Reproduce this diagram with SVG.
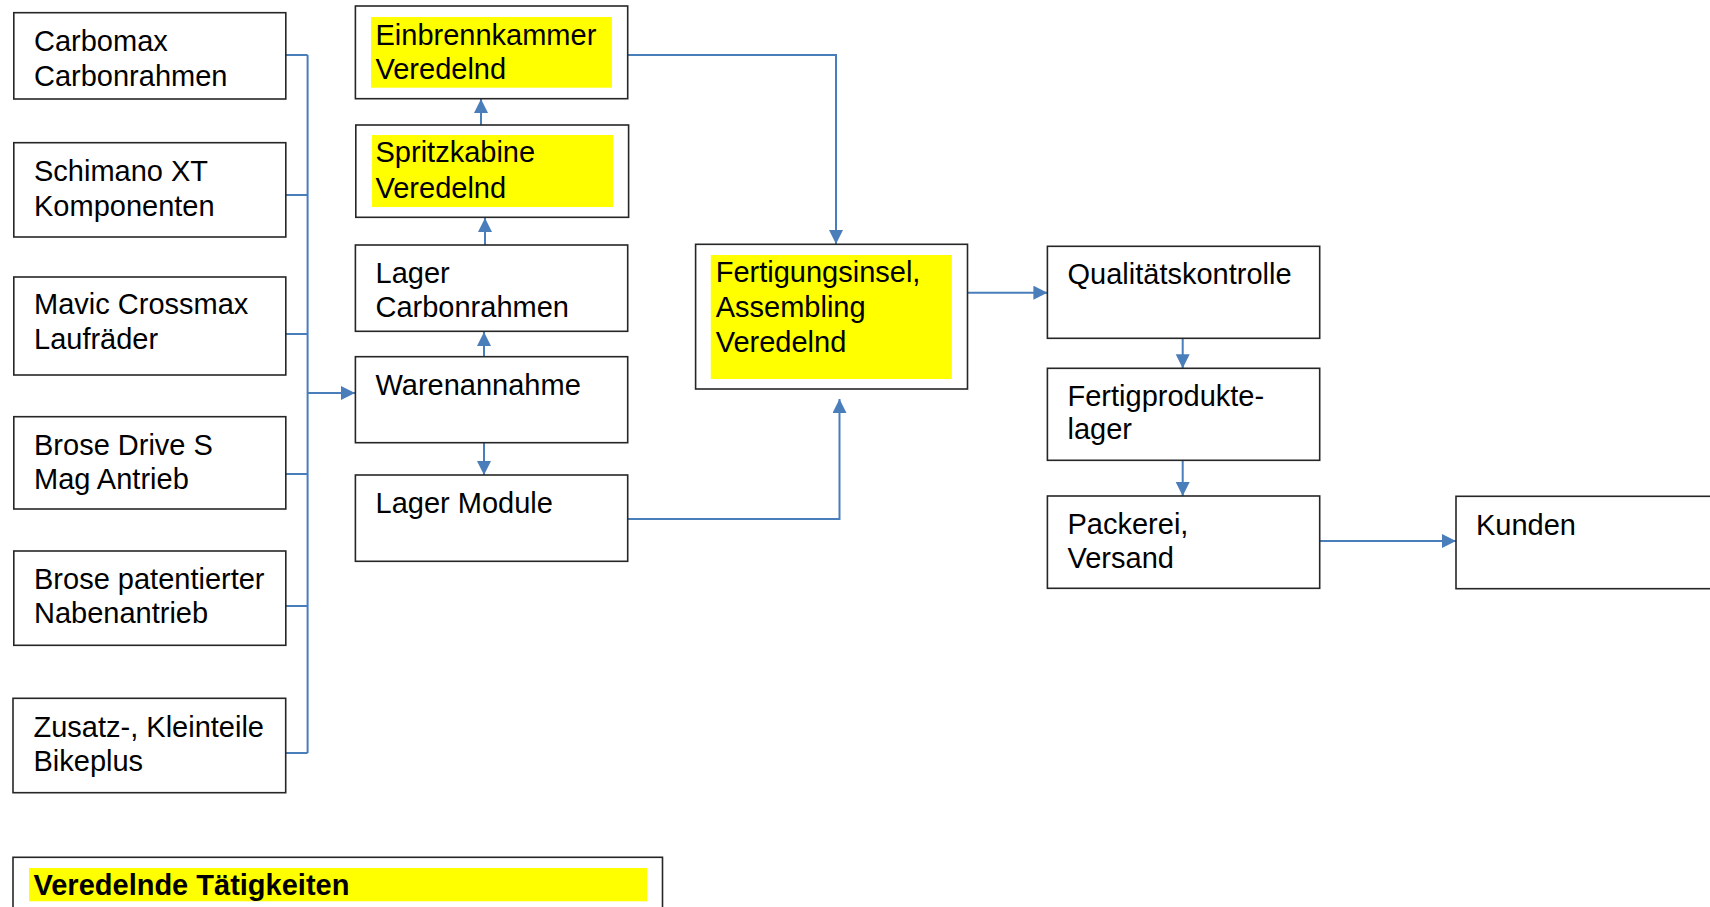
<svg xmlns="http://www.w3.org/2000/svg" width="1710" height="907" viewBox="0 0 1710 907">
<style>
.box{fill:#fff;stroke:#262626;stroke-width:1.6}
.hl{fill:#ffff00}
.t{font-family:"Liberation Sans",Arial,sans-serif;font-size:29px;fill:#000}
.b{font-weight:bold}
.c{fill:none;stroke:#4a7ebb;stroke-width:2}
</style>
<defs>
<marker id="ah" markerUnits="userSpaceOnUse" markerWidth="15" markerHeight="15" refX="14" refY="7" orient="auto">
<path d="M0,0 L14,7 L0,14 z" fill="#4a7ebb"/>
</marker>
</defs>
<g id="connectors">
<path class="c" d="M286,55 H307.6 M286,195 H307.6 M286,334 H307.6 M286,474 H307.6 M286,606 H307.6 M286,753 H307.6 M307.6,55 V753"/>
<path class="c" d="M307.6,393 H355" marker-end="url(#ah)"/>
<path class="c" d="M481,125 V99" marker-end="url(#ah)"/>
<path class="c" d="M485,245 V218" marker-end="url(#ah)"/>
<path class="c" d="M484,357 V332" marker-end="url(#ah)"/>
<path class="c" d="M484,443 V475" marker-end="url(#ah)"/>
<path class="c" d="M628,55 H836 V244" marker-end="url(#ah)"/>
<path class="c" d="M628,519 H839.5 V399" marker-end="url(#ah)"/>
<path class="c" d="M967.5,292.7 H1047.4" marker-end="url(#ah)"/>
<path class="c" d="M1182.7,338.3 V368.3" marker-end="url(#ah)"/>
<path class="c" d="M1182.7,460.3 V496" marker-end="url(#ah)"/>
<path class="c" d="M1320,541 H1456" marker-end="url(#ah)"/>
</g>
<g id="carbomax"><rect class="box" x="13.8" y="12.7" width="272" height="86.3"/><text class="t" x="34" y="51">Carbomax</text><text class="t" x="34" y="86">Carbonrahmen</text></g>
<g id="schimano"><rect class="box" x="13.8" y="142.7" width="272" height="94.3"/><text class="t" x="34" y="181">Schimano XT</text><text class="t" x="34" y="216">Komponenten</text></g>
<g id="mavic"><rect class="box" x="13.8" y="277" width="272" height="98"/><text class="t" x="34" y="314">Mavic Crossmax</text><text class="t" x="34" y="349">Laufräder</text></g>
<g id="brose-drive"><rect class="box" x="13.8" y="416.7" width="272" height="92.3"/><text class="t" x="34" y="455">Brose Drive S</text><text class="t" x="34" y="489.3">Mag Antrieb</text></g>
<g id="brose-nabe"><rect class="box" x="13.8" y="551" width="272" height="94.3"/><text class="t" x="34" y="589">Brose patentierter</text><text class="t" x="34" y="623.3">Nabenantrieb</text></g>
<g id="zusatz"><rect class="box" x="13" y="698.3" width="272.7" height="94.4"/><text class="t" x="33.5" y="737">Zusatz-, Kleinteile</text><text class="t" x="33.5" y="770.7">Bikeplus</text></g>
<g id="einbrennkammer"><rect class="box" x="355.4" y="6" width="272.3" height="92.7"/><rect class="hl" x="371" y="17" width="241" height="70.7"/><text class="t" x="375.5" y="45">Einbrennkammer</text><text class="t" x="375.5" y="78.7">Veredelnd</text></g>
<g id="spritzkabine"><rect class="box" x="355.8" y="125" width="272.8" height="92.3"/><rect class="hl" x="372" y="135" width="241" height="72"/><text class="t" x="375.5" y="162.3">Spritzkabine</text><text class="t" x="375.5" y="197.7">Veredelnd</text></g>
<g id="lager-carbon"><rect class="box" x="355.4" y="245" width="272.3" height="86.3"/><text class="t" x="375.5" y="282.7">Lager</text><text class="t" x="375.5" y="317.3">Carbonrahmen</text></g>
<g id="warenannahme"><rect class="box" x="355.4" y="356.7" width="272.3" height="86"/><text class="t" x="375.5" y="395">Warenannahme</text></g>
<g id="lager-module"><rect class="box" x="355.4" y="475" width="272.3" height="86.3"/><text class="t" x="375.5" y="512.7">Lager Module</text></g>
<g id="fertigungsinsel"><rect class="box" x="695.6" y="244.3" width="271.9" height="144.7"/><rect class="hl" x="710.8" y="255" width="241.1" height="124"/><text class="t" x="715.7" y="282.3">Fertigungsinsel,</text><text class="t" x="715.7" y="317">Assembling</text><text class="t" x="715.7" y="351.7">Veredelnd</text></g>
<g id="qualitaet"><rect class="box" x="1047.4" y="246.3" width="272.3" height="92"/><text class="t" x="1067.5" y="284">Qualitätskontrolle</text></g>
<g id="fertigprodukte"><rect class="box" x="1047.4" y="368.3" width="272.3" height="92"/><text class="t" x="1067.5" y="405.7">Fertigprodukte-</text><text class="t" x="1067.5" y="439">lager</text></g>
<g id="packerei"><rect class="box" x="1047.4" y="496" width="272.3" height="92.3"/><text class="t" x="1067.5" y="534.3">Packerei,</text><text class="t" x="1067.5" y="567.7">Versand</text></g>
<g id="kunden"><rect class="box" x="1456" y="496.3" width="300" height="92.4"/><text class="t" x="1476" y="535">Kunden</text></g>
<g id="legende"><rect class="box" x="13" y="857.3" width="649.5" height="70"/><rect class="hl" x="29" y="868" width="618" height="33.3"/><text class="t b" x="33.5" y="895">Veredelnde Tätigkeiten</text></g>
</svg>
